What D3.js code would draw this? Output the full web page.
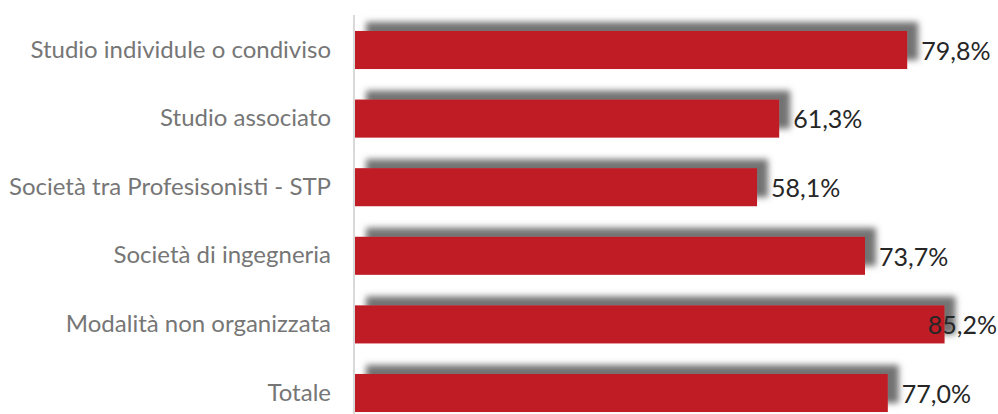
<!DOCTYPE html>
<html><head><meta charset="utf-8">
<script src="https://cdn.jsdelivr.net/npm/d3@7"></script>
<style>html,body{margin:0;padding:0;background:#fff;overflow:hidden}</style>
</head><body>
<svg id="c" width="998" height="414"></svg>
<script>
const categories = ["Studio individule o condiviso","Studio associato","Società tra Profesisonisti - STP","Società di ingegneria","Modalità non organizzata","Totale"];
const values = [79.8, 61.3, 58.1, 73.7, 85.2, 77.0];
const valueLabels = ["79,8%","61,3%","58,1%","73,7%","85,2%","77,0%"];

const W = 998, H = 414;
const svg = d3.select("#c");
const x = d3.scaleLinear().domain([0,100]).range([355,1047]);
const y = d3.scaleBand().domain(categories).range([15.7,427.3]).paddingInner(0.445).paddingOuter(0.2225);

const defs = svg.append("defs");
const f = defs.append("filter").attr("id","sh").attr("x","-10%").attr("y","-60%").attr("width","130%").attr("height","220%");
f.append("feGaussianBlur").attr("in","SourceAlpha").attr("stdDeviation",3.2).attr("result","b");
f.append("feOffset").attr("in","b").attr("dx",11).attr("dy",-9).attr("result","o");
f.append("feFlood").attr("flood-color","#5a5a5a").attr("flood-opacity",0.85);
f.append("feComposite").attr("in2","o").attr("operator","in").attr("result","s");
const m = f.append("feMerge");
m.append("feMergeNode").attr("in","s");
m.append("feMergeNode").attr("in","SourceGraphic");

svg.append("g").selectAll("rect").data(values).join("rect")
  .attr("x", x(0))
  .attr("y", (d,i)=>y(categories[i]))
  .attr("width", d=>x(d)-x(0))
  .attr("height", y.bandwidth())
  .attr("fill","#BF1F28")
  .attr("filter","url(#sh)");

svg.append("line").attr("x1",354).attr("x2",354).attr("y1",15).attr("y2",H)
  .attr("stroke","#d9d9d9").attr("stroke-width",2);

const yAxis = d3.axisLeft(y).tickSize(0).tickPadding(0);
const ga = svg.append("g").attr("transform","translate(331,0)").call(yAxis);
ga.select(".domain").remove();
ga.selectAll("text").attr("font-family","Lato, 'Open Sans', sans-serif").attr("font-size",24).attr("fill","#767676");

const lab = svg.append("g").selectAll("text").data(values).join("text")
  .attr("y",(d,i)=>y(categories[i])+y.bandwidth()/2+1)
  .attr("dy","0.35em")
  .attr("font-family","Lato, 'Open Sans', sans-serif").attr("font-size",25).attr("fill","#262626")
  .text((d,i)=>valueLabels[i]);
lab.each(function(d){
  const w = this.getComputedTextLength();
  const xx = Math.min(x(d)+14, W-1-w);
  d3.select(this).attr("x", xx);
});
</script>
</body></html>
